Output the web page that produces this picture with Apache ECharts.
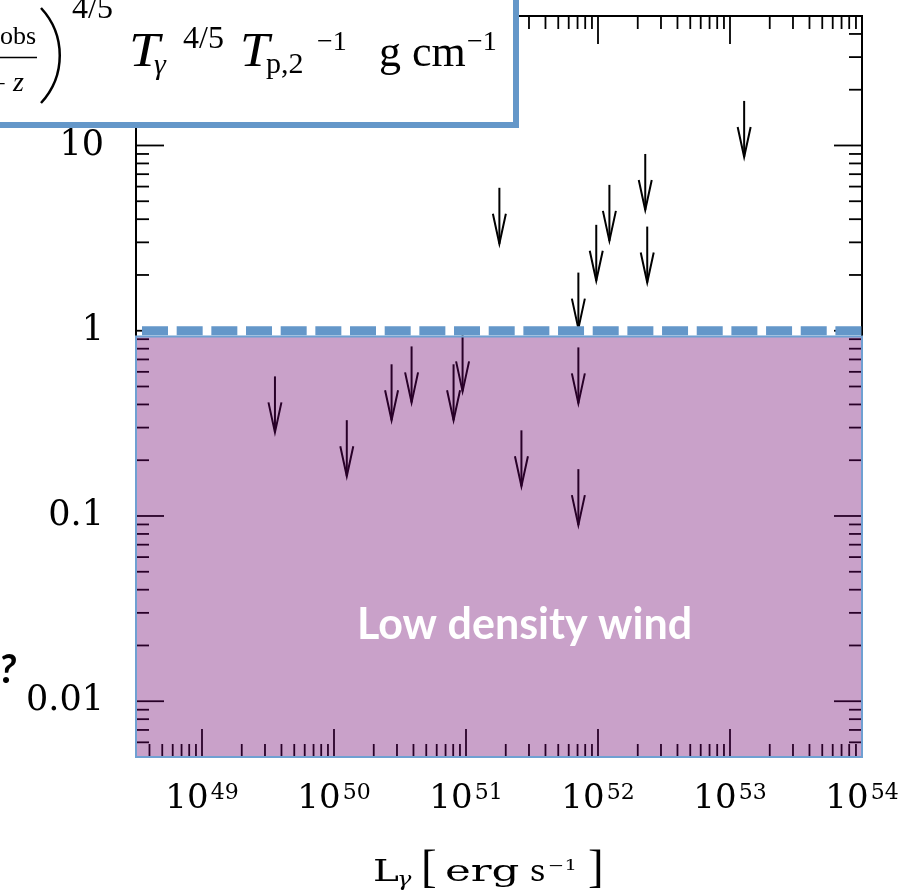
<!DOCTYPE html>
<html>
<head>
<meta charset="utf-8">
<script src="https://cdn.jsdelivr.net/npm/echarts@6/dist/echarts.min.js"></script>
<style>
html, body { margin: 0; padding: 0; background: #fff; }
#chart { width: 921px; height: 890px; }
</style>
</head>
<body>
<div id="chart"></div>
<script>
// axis ranges
const X_MIN = Math.pow(10, 48.5);
const X_MAX = 1e54;
const Y_MIN = 0.005;
const Y_MAX = 50;

// upper limits (top of each arrow): L_gamma [erg/s] and value [g/cm]
const limitL = [3.57e49, 1.25e50, 2.73e50, 3.87e50, 8.05e50, 9.42e50, 1.79e51, 2.63e51,
                7.1e51, 7.1e51, 7.1e51, 9.7e51, 1.22e52, 2.28e52, 2.36e52, 1.28e53];
const limitV = [0.567, 0.329, 0.659, 0.823, 0.659, 0.944, 5.91, 0.290,
                2.06, 0.813, 0.179, 3.73, 6.13, 9.0, 3.65, 17.4];

// critical value (dashed line) and the shaded low density region
const thresholdValue = 1;
const bandTop = 0.93;

// ticks
const xMajorTicks = [1e49, 1e50, 1e51, 1e52, 1e53, 1e54];
const yMajorTicks = [0.01, 0.1, 1, 10];
const minorSteps = [2, 3, 4, 5, 6, 7, 8, 9];
const xDecades = [1e48, 1e49, 1e50, 1e51, 1e52, 1e53];
const yDecades = [0.001, 0.01, 0.1, 1, 10];

const xMinorTicks = [];
xDecades.forEach(d => minorSteps.forEach(k => { if (k * d > X_MIN && k * d < X_MAX) xMinorTicks.push(k * d); }));
const yMinorTicks = [];
yDecades.forEach(d => minorSteps.forEach(k => { if (k * d > Y_MIN * 0.999 && k * d < Y_MAX * 1.001) yMinorTicks.push(k * d); }));

const SERIF = '"Liberation Serif", serif';
const WIDE = '"DejaVu Serif", serif';
const BLUE = '#6497c9';

const chart = echarts.init(document.getElementById('chart'));

function isPow10(v) {
  const e = Math.log10(v);
  return Math.abs(e - Math.round(e)) < 1e-6;
}

// draws tick marks on both sides of the frame
function tickSeries(values, axis, len) {
  return {
    type: 'custom',
    silent: true,
    clip: false,
    z: 3,
    data: values.map(v => axis === 'x' ? [v, Y_MIN] : [X_MIN, v]),
    renderItem: function (params, api) {
      const cs = params.coordSys;
      const p = api.coord([api.value(0), api.value(1)]);
      const style = { stroke: '#000', lineWidth: 1.8 };
      if (axis === 'x') {
        const b = cs.y + cs.height;
        return { type: 'group', children: [
          { type: 'line', shape: { x1: p[0], y1: b, x2: p[0], y2: b - len }, style },
          { type: 'line', shape: { x1: p[0], y1: cs.y, x2: p[0], y2: cs.y + len }, style }
        ] };
      }
      const r = cs.x + cs.width;
      return { type: 'group', children: [
        { type: 'line', shape: { x1: cs.x, y1: p[1], x2: cs.x + len, y2: p[1] }, style },
        { type: 'line', shape: { x1: r, y1: p[1], x2: r - len, y2: p[1] }, style }
      ] };
    }
  };
}

function txt(text, x, y, font, align, sx) {
  return {
    type: 'text', x: x, y: y, z: 101, scaleX: sx || 1,
    style: { text: text, font: font, fill: '#000', align: align || 'left', textAlign: align || 'left',
             verticalAlign: 'middle', textVerticalAlign: 'middle' }
  };
}

const option = {
  animation: false,
  grid: { left: 136, right: 59, top: 16, bottom: 133, show: true, borderColor: '#000', borderWidth: 2,
          backgroundColor: 'transparent', outerBoundsMode: 'none' },
  xAxis: {
    type: 'log', min: X_MIN, max: X_MAX,
    axisLine: { show: false }, axisTick: { show: false }, splitLine: { show: false },
    axisLabel: {
      margin: 25,
      showMinLabel: false,
      formatter: v => isPow10(v) ? '{b|10}{s|' + Math.round(Math.log10(v)) + '}' : '',
      rich: {
        b: { fontSize: 34, fontFamily: WIDE, color: '#000', lineHeight: 34 },
        s: { fontSize: 22, fontFamily: WIDE, color: '#000', verticalAlign: 'top', lineHeight: 16, padding: [0, 0, 0, 2] }
      }
    }
  },
  yAxis: {
    type: 'log', min: Y_MIN, max: Y_MAX,
    axisLine: { show: false }, axisTick: { show: false }, splitLine: { show: false },
    axisLabel: {
      margin: 32, fontSize: 35, fontFamily: WIDE, color: '#000',
      formatter: v => {
        if (!isPow10(v)) return '';
        const e = Math.round(Math.log10(v));
        return e >= 0 ? String(Math.pow(10, e)) : '0.' + '0'.repeat(-e - 1) + '1';
      }
    }
  },
  series: [
    // upper limit arrows
    {
      type: 'custom', z: 3, silent: true,
      data: limitL.map((l, i) => [l, limitV[i]]),
      renderItem: function (params, api) {
        const p = api.coord([api.value(0), api.value(1)]);
        const tip = p[1] + 56;
        const st = { stroke: '#000', lineWidth: 2, fill: null };
        return { type: 'group', children: [
          { type: 'line', shape: { x1: p[0], y1: p[1], x2: p[0], y2: tip }, style: st },
          { type: 'polyline', shape: { points: [[p[0] - 6.5, tip - 30], [p[0], tip], [p[0] + 6.5, tip - 30]] }, style: st }
        ] };
      }
    },
    tickSeries(xMajorTicks, 'x', 28),
    tickSeries(xMinorTicks, 'x', 13),
    tickSeries(yMajorTicks, 'y', 28),
    tickSeries(yMinorTicks, 'y', 13),
    // low density wind region
    {
      type: 'custom', z: 5, silent: true, clip: false,
      data: [[X_MIN, Y_MIN, X_MAX, bandTop]],
      encode: { x: [0, 2], y: [1, 3] },
      renderItem: function (params, api) {
        const a = api.coord([api.value(0), api.value(1)]);
        const b = api.coord([api.value(2), api.value(3)]);
        return { type: 'rect',
          shape: { x: a[0], y: b[1], width: b[0] - a[0], height: a[1] - b[1] },
          style: { fill: 'rgba(108,0,108,0.37)', stroke: '#6fa0d2', lineWidth: 2 } };
      }
    },
    // critical line
    {
      type: 'line', z: 6, silent: true, symbol: 'none',
      data: [[X_MIN, thresholdValue], [X_MAX, thresholdValue]],
      lineStyle: { color: BLUE, width: 9, type: [26, 8.67], dashOffset: 28.67 }
    }
  ],
  graphic: [
    { type: 'text', left: 357, top: 604, z: 50,
      style: { text: 'Low density wind', font: 'bold 43px Lato, "Open Sans", sans-serif', fill: '#fff' } },
    { type: 'text', x: -1, y: 670, z: 50,
      style: { text: '?', font: 'italic bold 40px Lato, sans-serif', fill: '#000', verticalAlign: 'middle', textVerticalAlign: 'middle' } },
    // x axis title (wide lettering like the original slide)
    txt('L', 373, 873, '30px ' + WIDE, 'left', 1.3),
    txt('γ', 397, 881, 'italic 20px ' + WIDE, 'left', 1.2),
    txt('[', 421, 870, '47px ' + SERIF),
    txt('erg', 445, 873, '30px ' + WIDE, 'left', 1.45),
    txt('s', 530, 873, '30px ' + WIDE),
    txt('−1', 548, 866, '14px ' + WIDE, 'left', 1.4),
    txt(']', 588, 870, '47px ' + SERIF),
    // formula box
    { type: 'rect', z: 100, shape: { x: -20, y: -20, width: 536, height: 145 },
      style: { fill: '#fff', stroke: BLUE, lineWidth: 6 } },
    txt('obs', 36, 37, '26px ' + SERIF, 'right'),
    { type: 'line', z: 101, shape: { x1: -5, y1: 57.5, x2: 37, y2: 57.5 }, style: { stroke: '#000', lineWidth: 1.5 } },
    txt('+', 6, 85, '26px ' + SERIF, 'right'),
    txt('z', 13, 84, 'italic 28px ' + SERIF),
    { type: 'bezierCurve', z: 101, shape: { x1: 41, y1: 8, x2: 41, y2: 103, cpx1: 66, cpy1: 35, cpx2: 66, cpy2: 76 },
      style: { stroke: '#000', lineWidth: 2.5, fill: null } },
    txt('4/5', 72, 10, '32px ' + SERIF),
    txt('T', 129, 53, 'italic 48px ' + SERIF, 'left', 1.15),
    txt('γ', 154, 66, 'italic 30px ' + SERIF),
    txt('4/5', 183, 40, '32px ' + SERIF),
    txt('T', 240, 53, 'italic 48px ' + SERIF, 'left', 1.1),
    txt('p,2', 266, 65, '30px ' + SERIF),
    txt('−1', 317, 43, '28px ' + SERIF),
    txt('g cm', 379, 54, '44px ' + SERIF),
    txt('−1', 467, 43, '28px ' + SERIF)
  ]
};

chart.setOption(option);
</script>
</body>
</html>
